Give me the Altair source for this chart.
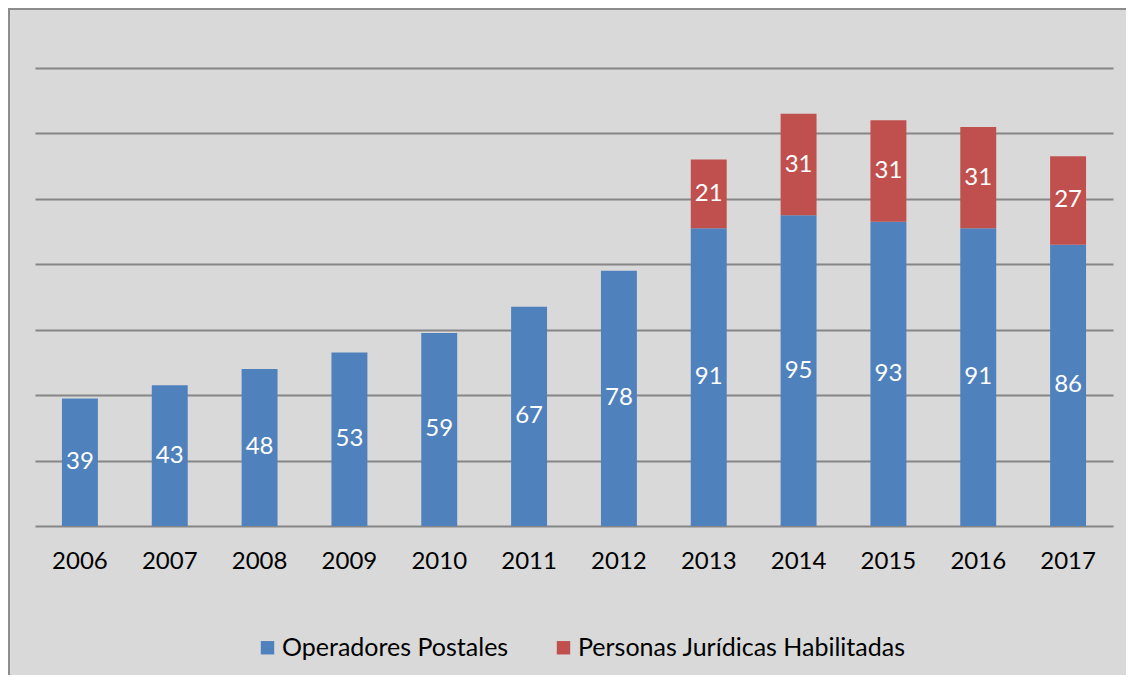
import altair as alt
import pandas as pd

years = ["2006", "2007", "2008", "2009", "2010", "2011", "2012", "2013", "2014", "2015", "2016", "2017"]
operadores = [39, 43, 48, 53, 59, 67, 78, 91, 95, 93, 91, 86]
personas_years = ["2013", "2014", "2015", "2016", "2017"]
personas = [21, 31, 31, 31, 27]
series_names = ["Operadores Postales", "Personas Jurídicas Habilitadas"]
series_colors = ["#4f81bd", "#c0504d"]

rows = []
for y, v in zip(years, operadores):
    rows.append({"year": y, "serie": series_names[0], "v": v, "ord": 0})
for y, v in zip(personas_years, personas):
    rows.append({"year": y, "serie": series_names[1], "v": v, "ord": 1})
df = pd.DataFrame(rows)

FONT = "Lato"
FS = 24

base = alt.Chart(df).encode(
    x=alt.X("year:N", sort=years, title=None,
            scale=alt.Scale(paddingInner=0.6, paddingOuter=0.3),
            axis=alt.Axis(labelAngle=0, ticks=False, domain=False, grid=False,
                          labelFont=FONT, labelFontSize=FS, labelColor="#000000",
                          labelPadding=23)),
)

bars = base.mark_bar().encode(
    y=alt.Y("v:Q", stack="zero", title=None,
            scale=alt.Scale(domain=[0, 140], nice=False, zero=True),
            axis=alt.Axis(values=[0, 20, 40, 60, 80, 100, 120, 140], labels=False,
                          ticks=False, domain=False, grid=True,
                          gridColor="#868686", gridWidth=2, gridOpacity=1)),
    color=alt.Color("serie:N", sort=series_names,
                    scale=alt.Scale(domain=series_names, range=series_colors),
                    legend=alt.Legend(title=None, orient="none", direction="horizontal",
                                      legendX=220, legendY=567, padding=0,
                                      symbolType="square", symbolSize=180,
                                      symbolStrokeWidth=0, symbolOpacity=1,
                                      labelFont=FONT, labelFontSize=25,
                                      labelColor="#000000", labelOffset=2,
                                      columnPadding=42, labelLimit=500)),
    order=alt.Order("ord:Q", sort="ascending"),
)

labels = base.transform_stack(
    stack="v", groupby=["year"], as_=["v0", "v1"],
    sort=[alt.SortField("ord", order="ascending")],
).transform_calculate(
    mid="(datum.v0 + datum.v1) / 2"
).mark_text(font=FONT, fontSize=FS, color="#ffffff", baseline="middle").encode(
    y=alt.Y("mid:Q", scale=alt.Scale(domain=[0, 140], nice=False)),
    text=alt.Text("v:Q"),
)

frame = alt.Chart(pd.DataFrame({"a": [0]})).mark_rect(
    fill="transparent", stroke="#8c8c8c", strokeWidth=2
).encode(
    x=alt.value(-26), x2=alt.value(1200), y=alt.value(-59), y2=alt.value(800)
)

chart = alt.layer(bars, labels, frame).properties(
    width=1078, height=458,
    padding={"left": 27, "top": 60, "right": 13, "bottom": 149},
    autosize=alt.AutoSizeParams(type="none"),
    background="#d9d9d9",
).configure_view(stroke=None)

chart.save("out.html", embed_options={"renderer": "svg", "actions": False})
